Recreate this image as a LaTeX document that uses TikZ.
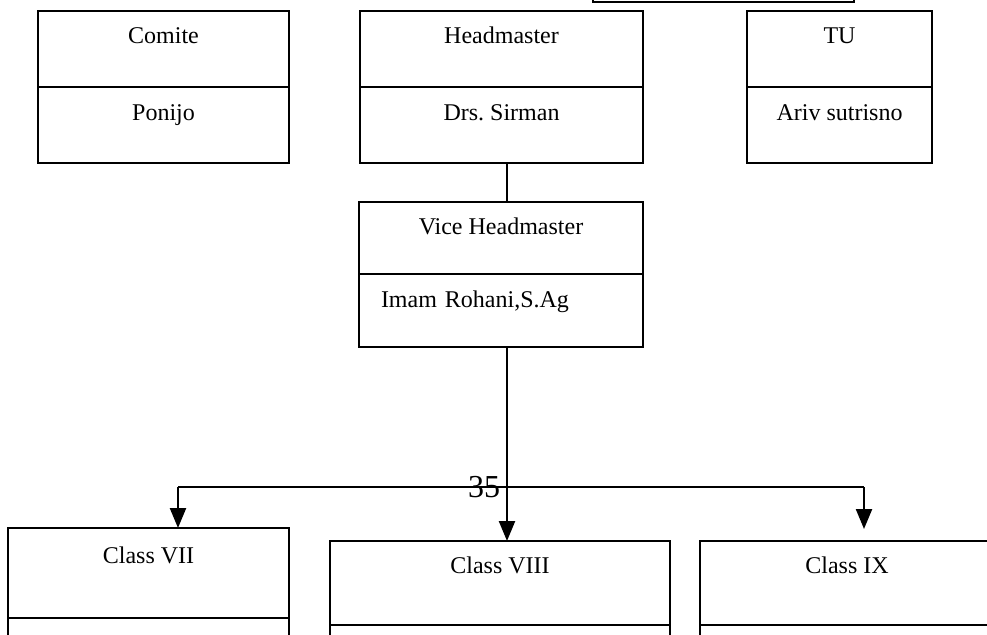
\documentclass[tikz,border=0pt]{standalone}
\usepackage{fontspec}
\setmainfont{Liberation Serif}
\usetikzlibrary{arrows.meta, positioning}
\frenchspacing
\tikzset{
    part/.style={rectangle, draw=black, line width=1.9pt, outer sep=0pt, inner ysep=0pt, text height=33pt, text centered, anchor=north west, font=\fontsize{24}{28}\selectfont},
    line/.style={line width=1.7pt},
    arrow/.style={line width=2.3pt, -{Triangle[width=16pt, length=20pt]}}
}
\begin{document}
\begin{tikzpicture}[x=1pt, y=-1pt]
    \clip (0,0) rectangle (987,634);
    \fill [white] (0,0) rectangle (987,634);

    % box above the page, only its lower edge shows
    \node (top) [part, anchor=south west, minimum width=261pt, text depth=40pt] at (593,2) {};

    % upper row
    \node (comite) [part, minimum width=251pt, text depth=43pt] at (38,11) {Comite};
    \node (ponijo) [part, below=0pt of comite, minimum width=251pt, text depth=43pt] {Ponijo};

    \node (head) [part, minimum width=283pt, text depth=43pt] at (360,11) {Headmaster};
    \node (sirman) [part, below=0pt of head, minimum width=283pt, text depth=43pt] {Drs. Sirman};

    \node (tu) [part, minimum width=185pt, text depth=43pt] at (747,11) {TU};
    \node (ariv) [part, below=0pt of tu, minimum width=185pt, text depth=43pt] {Ariv sutrisno};

    % vice headmaster
    \node (vice) [part, minimum width=284pt, text depth=40pt, text height=32pt] at (359,202) {Vice Headmaster};
    \node (imam) [part, below=0pt of vice, inner xsep=22pt, text width=240pt, align=left, text depth=40pt] {Imam Rohani,S.Ag};

    % classes
    \node (c7) [part, minimum width=281pt, text height=35pt, text depth=55pt] at (8,528) {Class VII};
    \node (c7b) [part, below=0pt of c7, minimum width=281pt, text depth=50pt] {};
    \node (c8) [part, minimum width=340pt, text height=32pt, text depth=52pt] at (330,541) {Class VIII};
    \node (c8b) [part, below=0pt of c8, minimum width=340pt, text depth=50pt] {};
    \node (c9) [part, minimum width=294pt, text height=32pt, text depth=52pt] at (700,541) {Class IX};
    \node (c9b) [part, below=0pt of c9, minimum width=294pt, text depth=50pt] {};

    \coordinate (spine) at (507,487);
    \coordinate (jl) at (178,487);
    \coordinate (jr) at (864,487);
    \coordinate (tipr) at (864,529);

    \node (page) [anchor=base, font=\fontsize{32}{36}\selectfont, inner sep=0pt] at (484,497) {35};

    \draw [line] (sirman.south -| spine) -- (vice.north -| spine);
    \draw [line] (imam.south -| spine) -- (spine);
    \draw [line] (jl) -- (jr);
    \draw [arrow] (jl) -- (jl |- c7.north);
    \draw [arrow] (spine) -- (spine |- c8.north);
    \draw [arrow] (jr) -- (tipr);
\end{tikzpicture}
\end{document}
